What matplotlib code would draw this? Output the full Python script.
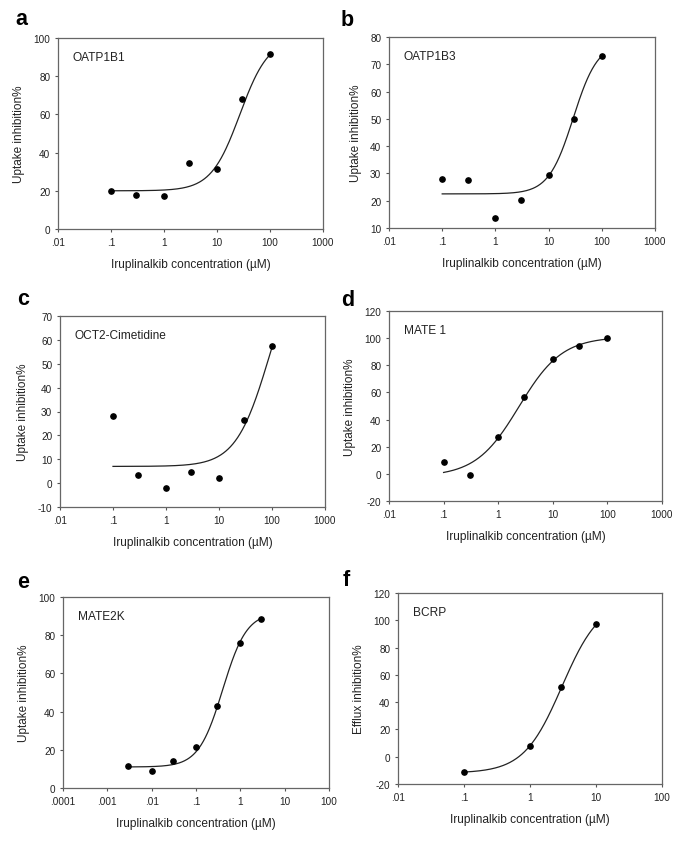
import numpy as np
import matplotlib
matplotlib.use('Agg')
import matplotlib.pyplot as plt

plt.rcParams['font.family'] = ['Liberation Sans', 'DejaVu Sans']
plt.rcParams['axes.unicode_minus'] = False

# measured points (concentration in uM, inhibition %)
conc_a = [0.1, 0.3, 1, 3, 10, 30, 100]
inh_a = [20, 18, 17.5, 34.5, 31.5, 68, 91.5]
conc_b = [0.1, 0.3, 1, 3, 10, 30, 100]
inh_b = [28, 27.5, 13.5, 20.3, 29.3, 50, 73]
conc_c = [0.1, 0.3, 1, 3, 10, 30, 100]
inh_c = [28, 3.2, -2, 4.5, 2, 26.3, 57.3]
conc_d = [0.1, 0.3, 1, 3, 10, 30, 100]
inh_d = [9, -0.5, 27, 57, 84.5, 94.5, 100]
conc_e = [0.003, 0.01, 0.03, 0.1, 0.3, 1, 3]
inh_e = [11.5, 9, 14.3, 21.3, 42.8, 76, 88.5]
conc_f = [0.1, 1, 3, 10]
inh_f = [-11, 8, 51, 97]

# fitted 4PL parameters: bottom, top, IC50, hill
fit_a = (20, 100, 27, 1.6)
fit_b = (22.5, 78, 29, 1.88)
fit_c = (7, 100, 90, 1.37)
fit_d = (-2, 101, 2.4, 1.1)
fit_e = (11, 92, 0.4, 1.6)
fit_f = (-12, 115, 3.05, 1.5)

names = ['OATP1B1', 'OATP1B3', 'OCT2-Cimetidine', 'MATE 1', 'MATE2K', 'BCRP']
letters = ['a', 'b', 'c', 'd', 'e', 'f']
ylabels = ['Uptake inhibition%'] * 5 + ['Efflux inhibition%']
xlabel = 'Iruplinalkib concentration (\u00b5M)'

xticks_std = [0.01, 0.1, 1, 10, 100, 1000]
xticklabels_std = ['.01', '.1', '1', '10', '100', '1000']
xticks_e = [0.0001, 0.001, 0.01, 0.1, 1, 10, 100]
xticklabels_e = ['.0001', '.001', '.01', '.1', '1', '10', '100']
xticks_f = [0.01, 0.1, 1, 10, 100]
xticklabels_f = ['.01', '.1', '1', '10', '100']

yticks = [np.arange(0, 101, 20), np.arange(10, 81, 10), np.arange(-10, 71, 10),
          np.arange(-20, 121, 20), np.arange(0, 101, 20), np.arange(-20, 121, 20)]

panels = [
    (conc_a, inh_a, fit_a, xticks_std, xticklabels_std),
    (conc_b, inh_b, fit_b, xticks_std, xticklabels_std),
    (conc_c, inh_c, fit_c, xticks_std, xticklabels_std),
    (conc_d, inh_d, fit_d, xticks_std, xticklabels_std),
    (conc_e, inh_e, fit_e, xticks_e, xticklabels_e),
    (conc_f, inh_f, fit_f, xticks_f, xticklabels_f),
]

# axes boxes in pixels: left, right, top, bottom
boxes = [(58, 323, 39, 230), (389, 655, 38, 229),
         (60, 325, 317, 508), (389, 662, 312, 502),
         (63, 329, 598, 789), (398, 662, 594, 785)]
letter_pos = [(15, 25), (341, 26), (17, 305), (341, 306), (17, 588), (343, 586)]

W, H = 685, 845
fig = plt.figure(figsize=(W / 100, H / 100), dpi=100)


def hill(x, p):
    b, t, c, n = p
    return b + (t - b) / (1 + (c / x) ** n)


for i, (x, y, fit, xt, xtl) in enumerate(panels):
    l, r, t, b = boxes[i]
    ax = fig.add_axes([l / W, (H - b) / H, (r - l) / W, (b - t) / H])
    ax.set_xscale('log')
    xs = np.logspace(np.log10(x[0]), np.log10(x[-1]), 200)
    ax.plot(xs, hill(xs, fit), color='#222222', lw=0.9)
    ax.plot(x, y, 'o', color='black', ms=3.8)
    ax.set_xlim(xt[0], xt[-1])
    ax.set_ylim(yticks[i][0], yticks[i][-1])
    ax.set_xticks(xt)
    ax.set_xticklabels(xtl)
    ax.minorticks_off()
    ax.set_yticks(yticks[i])
    ax.tick_params(labelsize=7.2, length=2.5, width=0.8, pad=3, color='#555555',
                   labelcolor='#222222')
    for s in ax.spines.values():
        s.set_color('#666666')
        s.set_linewidth(0.9)
    ax.set_xlabel(xlabel, fontsize=8.6, labelpad=8, color='#222222')
    ax.set_ylabel(ylabels[i], fontsize=8.5, labelpad=6, color='#222222')
    ax.text(0.055, 0.9, names[i], transform=ax.transAxes, fontsize=8.6,
            va='center', ha='left', color='#222222')
    lx, ly = letter_pos[i]
    fig.text(lx / W, (H - ly) / H, letters[i], fontsize=15.5, fontweight='bold',
             va='baseline', ha='left')

fig.savefig('out.png', dpi=100)
